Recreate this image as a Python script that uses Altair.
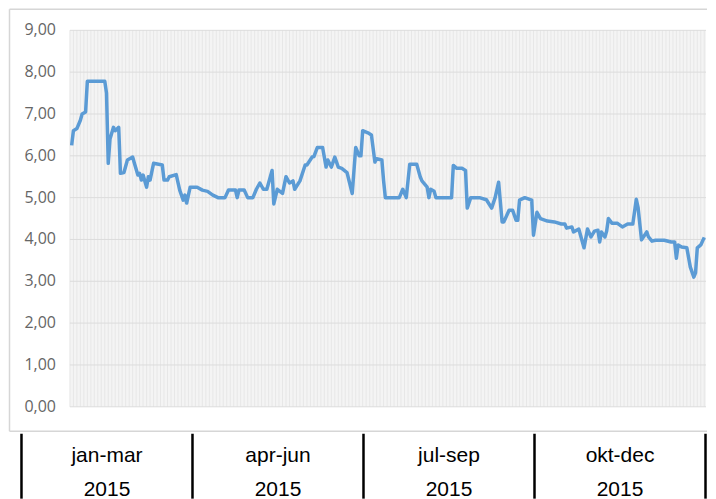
import altair as alt
import pandas as pd

# ---- data ----
days = [1, 2, 4, 6, 7, 9, 10, 20, 21, 22, 23, 25, 26, 28, 29, 31, 33, 36, 37, 39,
        40, 41, 42, 44, 45, 46, 48, 53, 54, 56, 57, 61, 63, 65, 66, 67, 69, 73, 76, 79,
        82, 85, 89, 91, 95, 96, 97, 100, 102, 105, 107, 109, 111, 113, 116, 117, 119, 122, 124, 126,
        128, 129, 132, 135, 136, 139, 140, 142, 145, 147, 148, 150, 152, 154, 156, 159, 162, 164, 166, 167,
        168, 171, 173, 175, 176, 179, 180, 181, 189, 191, 193, 195, 199, 201, 202, 205, 206, 207, 209, 210,
        219, 220, 222, 225, 227, 228, 230, 235, 239, 242, 244, 246, 248, 249, 252, 254, 256, 257, 258, 261,
        265, 266, 268, 270, 274, 278, 282, 284, 285, 288, 289, 292, 295, 297, 299, 301, 303, 304, 305, 307,
        308, 309, 311, 314, 317, 320, 323, 325, 326, 328, 331, 332, 334, 336, 341, 345, 347, 348, 349, 351,
        354, 356, 358, 359, 360, 362, 364]
rates = [6.25, 6.6, 6.65, 6.85, 7.0, 7.05, 7.78, 7.78, 7.5, 5.82, 6.4, 6.68, 6.6, 6.68, 5.58, 5.6, 5.9, 5.97, 5.82, 5.54,
         5.58, 5.42, 5.54, 5.25, 5.5, 5.42, 5.82, 5.78, 5.42, 5.42, 5.5, 5.55, 5.18, 4.94, 5.06, 4.87, 5.25, 5.25, 5.18, 5.15,
         5.06, 5.0, 5.0, 5.18, 5.18, 5.0, 5.18, 5.18, 5.0, 5.0, 5.2, 5.35, 5.2, 5.2, 5.65, 4.85, 5.2, 5.1, 5.5, 5.35,
         5.4, 5.2, 5.4, 5.78, 5.78, 5.97, 5.98, 6.2, 6.2, 5.73, 5.9, 5.73, 5.97, 5.73, 5.7, 5.6, 5.1, 6.2, 6.0, 6.0,
         6.6, 6.55, 6.5, 5.85, 5.93, 5.9, 5.4, 5.0, 5.0, 5.2, 5.0, 5.8, 5.8, 5.5, 5.4, 5.25, 5.0, 5.2, 5.15, 5.0,
         5.0, 5.77, 5.7, 5.7, 5.65, 4.75, 5.0, 5.0, 4.95, 4.75, 5.0, 5.37, 4.42, 4.42, 4.7, 4.7, 4.46, 4.46, 4.94, 5.0,
         4.94, 4.1, 4.65, 4.5, 4.44, 4.42, 4.37, 4.37, 4.27, 4.3, 4.18, 4.25, 3.8, 4.25, 4.06, 4.2, 4.22, 3.94, 4.18, 4.06,
         4.2, 4.5, 4.39, 4.39, 4.3, 4.37, 4.37, 4.96, 4.77, 3.99, 4.18, 4.06, 3.96, 3.98, 3.98, 3.94, 3.94, 3.55, 3.87, 3.82,
         3.8, 3.34, 3.1, 3.2, 3.8, 3.87, 4.05]

y_ticks = [0, 1, 2, 3, 4, 5, 6, 7, 8, 9]
y_labels = ["0,00", "1,00", "2,00", "3,00", "4,00", "5,00", "6,00", "7,00", "8,00", "9,00"]
quarters = ["jan-mar", "apr-jun", "jul-sep", "okt-dec"]
years = ["2015", "2015", "2015", "2015"]
quarter_edges = [0, 1, 2, 3, 4]
quarter_mids = [0.5, 1.5, 2.5, 3.5]

# ---- scales ----
XS = alt.Scale(domain=[0, 365], range=[62, 699], nice=False, zero=False)
YS = alt.Scale(domain=[0, 9], range=[399, 22], nice=False)
QS = alt.Scale(domain=[0, 4], range=[13.5, 698.5], nice=False)

line_df = pd.DataFrame({"day": days, "rate": rates})
bg_df = pd.DataFrame({"d0": [0], "d1": [365], "r0": [0], "r1": [9]})
hgrid_df = pd.DataFrame({"rate": y_ticks, "d0": [0] * len(y_ticks), "d1": [365] * len(y_ticks)})
vdays = list(range(0, 366, 2))
vgrid_df = pd.DataFrame({"day": vdays, "r0": [0] * len(vdays), "r1": [9] * len(vdays)})
ylab_df = pd.DataFrame({"rate": y_ticks, "label": y_labels})
edges_df = pd.DataFrame({"q": quarter_edges})
qlab_df = pd.DataFrame({"mid": quarter_mids, "period": quarters, "year": years})
frame_df = pd.DataFrame({"k": [0]})

FRAME = "#d6d6d6"
frame_top = alt.Chart(frame_df).mark_rule(color=FRAME, strokeWidth=1.5).encode(
    x=alt.value(1.5), x2=alt.value(700), y=alt.value(0.8)
)
frame_left = alt.Chart(frame_df).mark_rule(color=FRAME, strokeWidth=1.5).encode(
    x=alt.value(1.5), y=alt.value(0.8), y2=alt.value(423.5)
)
frame_bottom = alt.Chart(frame_df).mark_rule(color=FRAME, strokeWidth=1.5).encode(
    x=alt.value(1.5), x2=alt.value(700), y=alt.value(423.5)
)

bg = alt.Chart(bg_df).mark_rect(color="#f4f4f4").encode(
    x=alt.X("d0:Q", scale=XS, axis=None), x2="d1:Q",
    y=alt.Y("r0:Q", scale=YS, axis=None), y2="r1:Q",
)

vgrid = alt.Chart(vgrid_df).mark_rule(color="#e7e7e7", strokeWidth=1).encode(
    x=alt.X("day:Q", scale=XS, axis=None),
    y=alt.Y("r0:Q", scale=YS, axis=None), y2="r1:Q",
)

hgrid = alt.Chart(hgrid_df).mark_rule(color="#dcdcdc", strokeWidth=1).encode(
    x=alt.X("d0:Q", scale=XS, axis=None), x2="d1:Q",
    y=alt.Y("rate:Q", scale=YS, axis=None),
)

ylabels = alt.Chart(ylab_df).mark_text(
    align="right", baseline="middle", font="Open Sans", fontSize=16, color="#666666"
).encode(
    x=alt.value(48),
    y=alt.Y("rate:Q", scale=YS, axis=None),
    text="label:N",
)

line = alt.Chart(line_df).mark_line(color="#5b9bd5", strokeWidth=3.5, strokeJoin="round").encode(
    x=alt.X("day:Q", scale=XS, axis=None),
    y=alt.Y("rate:Q", scale=YS, axis=None),
)

top = alt.layer(frame_top, frame_left, frame_bottom, bg, vgrid, hgrid, ylabels, line).properties(
    width=700, height=424
)

edges = alt.Chart(edges_df).mark_rule(color="black", strokeWidth=2.5).encode(
    x=alt.X("q:Q", scale=QS, axis=None),
    y=alt.value(2), y2=alt.value(67),
)

qtext = alt.Chart(qlab_df).mark_text(
    align="center", baseline="alphabetic", font="Liberation Sans", fontSize=21, color="black"
).encode(
    x=alt.X("mid:Q", scale=QS, axis=None),
    y=alt.value(30),
    text="period:N",
)

ytext = alt.Chart(qlab_df).mark_text(
    align="center", baseline="alphabetic", font="Liberation Sans", fontSize=21, color="black"
).encode(
    x=alt.X("mid:Q", scale=QS, axis=None),
    y=alt.value(64),
    text="year:N",
)

bottom = alt.layer(edges, qtext, ytext).properties(width=700, height=67)

chart = alt.vconcat(top, bottom, spacing=0, bounds="flush").properties(
    padding=0
).configure_view(stroke=None)

chart.save("out.html", embed_options={"renderer": "svg", "actions": False})
